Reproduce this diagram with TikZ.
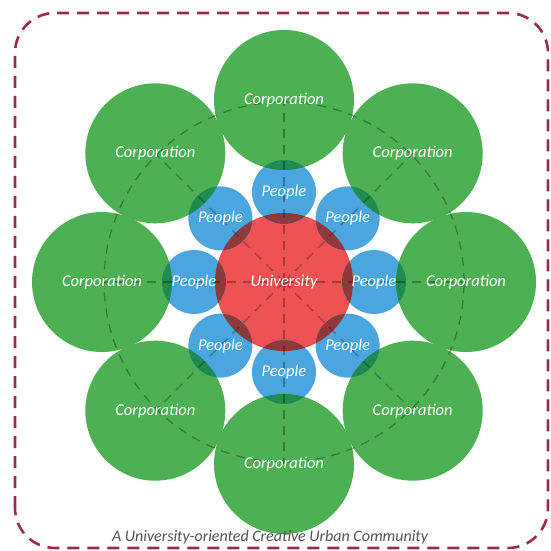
\documentclass[tikz,border=0pt]{standalone}
\usepackage{fontspec}
\setmainfont{Carlito}
\definecolor{corpgreen}{HTML}{4DB053}
\definecolor{pplblue}{HTML}{4BA6DF}
\definecolor{unired}{HTML}{EE5252}
\definecolor{lensgreen}{HTML}{1F8B4E}
\definecolor{lensred}{HTML}{8E3A3C}
\definecolor{framered}{HTML}{9E2A4A}
\begin{document}
\begin{tikzpicture}[x=1pt,y=1pt,
  corp/.style={circle, fill=corpgreen, minimum size=140pt, inner sep=0pt},
  ppl/.style={circle, fill=pplblue, minimum size=64pt, inner sep=0pt},
  uni/.style={circle, fill=unired, minimum size=138pt, inner sep=0pt},
  lbl/.style={text=white, font=\itshape\fontsize{16.5}{19}\selectfont},
  guide/.style={black, opacity=.3, line width=1.3pt, dash pattern=on 9pt off 7pt},
  frame/.style={framered, line width=2.6pt, dash pattern=on 12pt off 8pt, rounded corners=40pt}]
\useasboundingbox (-284,-269) rectangle (266,282);
\draw[frame] (-269,-266) rectangle (264,269);
% rings of circles
\node[uni] (uni) at (0,0){};
\foreach \i in {0,...,7}{
  \node[corp] (corp\i) at (90-45*\i:182){};
  \node[ppl] (ppl\i) at (90-45*\i:90){};
}
% darker lenses where people overlap
\foreach \i in {0,...,7}{
  \begin{scope}
    \clip (ppl\i.center) circle[radius=32];
    \fill[lensgreen] (corp\i.center) circle[radius=70];
    \fill[lensred] (uni.center) circle[radius=69];
  \end{scope}
}
% dashed guides
\draw[guide] (uni.center) circle[radius=180];
\foreach \i in {0,...,7}
  \draw[guide] (uni.center) -- (corp\i.center);
% labels
\node[lbl] at (uni) {University};
\foreach \i in {0,...,7}{
  \node[lbl] at (corp\i) {Corporation};
  \node[lbl] at (ppl\i) {People};
}
\node[text=black!68, font=\itshape\fontsize{16}{19}\selectfont] (caption) at (-14,-255) {A University-oriented Creative Urban Community};
\end{tikzpicture}
\end{document}
